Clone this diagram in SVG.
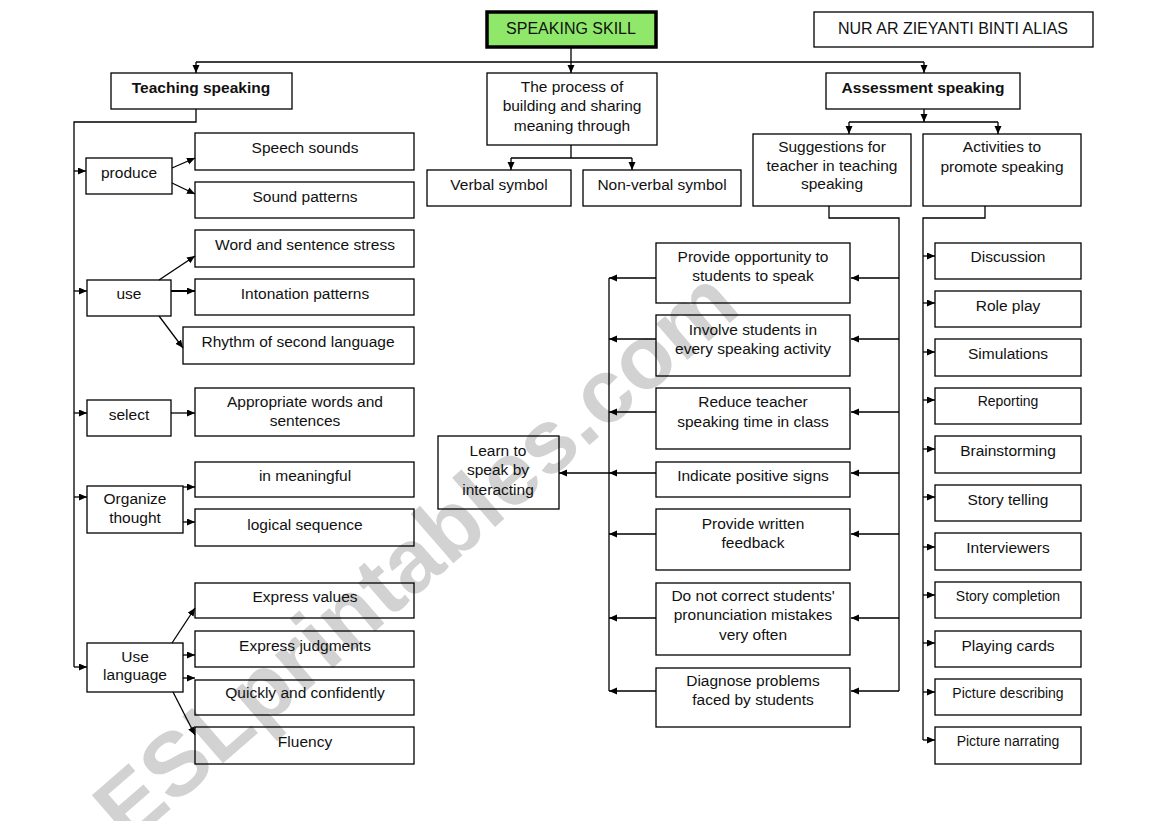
<svg xmlns="http://www.w3.org/2000/svg" width="1169" height="821" viewBox="0 0 1169 821">
<defs>
<marker id="ah" markerUnits="userSpaceOnUse" markerWidth="9" markerHeight="8" refX="8" refY="3.5" orient="auto"><path d="M0,0 L8,3.5 L0,7 z" fill="#000"/></marker>
<style>
.b{fill:none;stroke:#000;stroke-width:1.3}
.t{font-family:"Liberation Sans",Arial,sans-serif;font-size:15.5px;fill:#111;text-anchor:middle}
.s{font-size:14px}
.bd{font-weight:bold}
.c{fill:none;stroke:#000;stroke-width:1.3}
.a{marker-end:url(#ah)}
.wm{font-family:"Liberation Sans",Arial,sans-serif;font-weight:bold;font-size:90px;fill:#d2d2d2}
</style>
</defs>
<rect width="1169" height="821" fill="#fff"/>
<text class="wm" x="128" y="846" transform="rotate(-41 128 846)">ESLprintables.com</text>

<g id="connectors">
<path class="c a" d="M571 48 V73"/>
<path class="c" d="M196 62 H924"/>
<path class="c a" d="M196 62 V73"/>
<path class="c a" d="M924 62 V73"/>
<path class="c" d="M571 145 V158 M511 158 H632"/>
<path class="c a" d="M511 158 V170"/>
<path class="c a" d="M632 158 V170"/>
<path class="c a" d="M924 109 V122"/>
<path class="c" d="M849 122 H998"/>
<path class="c a" d="M849 122 V134"/>
<path class="c a" d="M998 122 V134"/>
<path class="c" d="M829 206 V218 H899 V691"/>
<path class="c" d="M985 206 V218 H923 V740"/>
<path class="c a" d="M899 278 H851"/>
<path class="c a" d="M899 339 H851"/>
<path class="c a" d="M899 412 H851"/>
<path class="c a" d="M899 473 H851"/>
<path class="c a" d="M899 534 H851"/>
<path class="c a" d="M899 618 H851"/>
<path class="c a" d="M899 691 H851"/>
<path class="c" d="M609 278 V691"/>
<path class="c a" d="M656 278 H609"/>
<path class="c a" d="M656 339 H609"/>
<path class="c a" d="M656 412 H609"/>
<path class="c a" d="M656 473 H609"/>
<path class="c a" d="M656 534 H609"/>
<path class="c a" d="M656 618 H609"/>
<path class="c a" d="M656 691 H609"/>
<path class="c a" d="M609 473 H559"/>
<path class="c a" d="M923 256 H935"/>
<path class="c a" d="M923 303 H935"/>
<path class="c a" d="M923 352 H935"/>
<path class="c a" d="M923 400 H935"/>
<path class="c a" d="M923 449 H935"/>
<path class="c a" d="M923 497 H935"/>
<path class="c a" d="M923 547 H935"/>
<path class="c a" d="M923 595 H935"/>
<path class="c a" d="M923 643 H935"/>
<path class="c a" d="M923 692 H935"/>
<path class="c a" d="M923 740 H935"/>
<path class="c" d="M196 109 V122 H74 V667"/>
<path class="c a" d="M74 171 H86"/>
<path class="c a" d="M74 291 H87"/>
<path class="c a" d="M74 413 H87"/>
<path class="c a" d="M74 497 H87"/>
<path class="c a" d="M74 667 H87"/>
<path class="c a" d="M172 168 L195 158"/>
<path class="c a" d="M172 183 L195 194"/>
<path class="c a" d="M159 280 L195 256"/>
<path class="c a" d="M171 291 H195" style="stroke-width:2"/>
<path class="c a" d="M159 316 L183 348"/>
<path class="c a" d="M171 413 H195"/>
<path class="c a" d="M183 487 H195"/>
<path class="c a" d="M183 522 H195"/>
<path class="c a" d="M172 643 L195 608"/>
<path class="c a" d="M183 655 H195"/>
<path class="c a" d="M183 678 H195"/>
<path class="c a" d="M173 692 L195 735"/>
</g>

<g id="speaking-skill"><rect x="487" y="12" width="169" height="35" fill="#8fe86a" stroke="#000" stroke-width="3.5"/><text class="t" x="571" y="34" style="font-size:16px">SPEAKING SKILL</text></g>
<g id="author"><rect x="814" y="12" width="279" height="35" class="b" stroke-width="2"/><text class="t" x="953" y="34" style="font-size:16px">NUR AR ZIEYANTI BINTI ALIAS</text></g>
<g id="teaching"><rect x="111" y="73" width="181" height="36" class="b"/><text class="t bd" x="201" y="93">Teaching speaking</text></g>
<g id="process"><rect x="487" y="73" width="170" height="72" class="b"/><text class="t" x="572" y="92">The process of</text><text class="t" x="572" y="111">building and sharing</text><text class="t" x="572" y="131">meaning through</text></g>
<g id="assessment"><rect x="826" y="73" width="194" height="36" class="b"/><text class="t bd" x="923" y="93">Assessment speaking</text></g>
<g id="verbal"><rect x="427" y="170" width="144" height="36" class="b"/><text class="t" x="499" y="190">Verbal symbol</text></g>
<g id="nonverbal"><rect x="583" y="170" width="158" height="36" class="b"/><text class="t" x="662" y="190">Non-verbal symbol</text></g>
<g id="suggestions"><rect x="753" y="134" width="158" height="72" class="b"/><text class="t" x="832" y="152">Suggestions for</text><text class="t" x="832" y="171">teacher in teaching</text><text class="t" x="832" y="189">speaking</text></g>
<g id="activities"><rect x="923" y="134" width="158" height="72" class="b"/><text class="t" x="1002" y="152">Activities to</text><text class="t" x="1002" y="172">promote speaking</text></g>

<g id="produce"><rect x="86" y="158" width="86" height="36" class="b"/><text class="t" x="129" y="178">produce</text></g>
<g id="speech-sounds"><rect x="195" y="133" width="219" height="37" class="b"/><text class="t" x="305" y="153">Speech sounds</text></g>
<g id="sound-patterns"><rect x="195" y="182" width="219" height="36" class="b"/><text class="t" x="305" y="202">Sound patterns</text></g>
<g id="use"><rect x="87" y="280" width="84" height="36" class="b"/><text class="t" x="129" y="299">use</text></g>
<g id="word-stress"><rect x="195" y="230" width="219" height="37" class="b"/><text class="t" x="305" y="250">Word and sentence stress</text></g>
<g id="intonation"><rect x="195" y="279" width="219" height="36" class="b"/><text class="t" x="305" y="299">Intonation patterns</text></g>
<g id="rhythm"><rect x="183" y="327" width="231" height="37" class="b"/><text class="t" x="298" y="347">Rhythm of second language</text></g>
<g id="select"><rect x="87" y="400" width="84" height="36" class="b"/><text class="t" x="129" y="420">select</text></g>
<g id="appropriate"><rect x="195" y="388" width="219" height="48" class="b"/><text class="t" x="305" y="407">Appropriate words and</text><text class="t" x="305" y="426">sentences</text></g>
<g id="organize"><rect x="87" y="486" width="96" height="47" class="b"/><text class="t" x="135" y="504">Organize</text><text class="t" x="135" y="523">thought</text></g>
<g id="meaningful"><rect x="195" y="462" width="219" height="35" class="b"/><text class="t" x="305" y="481">in meaningful</text></g>
<g id="logical"><rect x="195" y="509" width="219" height="37" class="b"/><text class="t" x="305" y="530">logical sequence</text></g>
<g id="use-language"><rect x="87" y="643" width="96" height="49" class="b"/><text class="t" x="135" y="662">Use</text><text class="t" x="135" y="680">language</text></g>
<g id="express-values"><rect x="195" y="583" width="219" height="35" class="b"/><text class="t" x="305" y="602">Express values</text></g>
<g id="express-judgments"><rect x="195" y="631" width="219" height="36" class="b"/><text class="t" x="305" y="651">Express judgments</text></g>
<g id="quickly"><rect x="195" y="680" width="219" height="35" class="b"/><text class="t" x="305" y="698">Quickly and confidently</text></g>
<g id="fluency"><rect x="195" y="727" width="219" height="37" class="b"/><text class="t" x="305" y="747">Fluency</text></g>

<g id="learn"><rect x="438" y="436" width="121" height="73" class="b"/><text class="t" x="498" y="456">Learn to</text><text class="t" x="498" y="475">speak by</text><text class="t" x="498" y="495">interacting</text></g>
<g id="opportunity"><rect x="656" y="243" width="194" height="60" class="b"/><text class="t" x="753" y="262">Provide opportunity to</text><text class="t" x="753" y="281">students to speak</text></g>
<g id="involve"><rect x="656" y="315" width="194" height="61" class="b"/><text class="t" x="753" y="335">Involve students in</text><text class="t" x="753" y="354">every speaking activity</text></g>
<g id="reduce"><rect x="656" y="388" width="194" height="61" class="b"/><text class="t" x="753" y="407">Reduce teacher</text><text class="t" x="753" y="427">speaking time in class</text></g>
<g id="indicate"><rect x="656" y="462" width="194" height="35" class="b"/><text class="t" x="753" y="481">Indicate positive signs</text></g>
<g id="written"><rect x="656" y="509" width="194" height="61" class="b"/><text class="t" x="753" y="529">Provide written</text><text class="t" x="753" y="548">feedback</text></g>
<g id="do-not-correct"><rect x="656" y="583" width="194" height="72" class="b"/><text class="t" x="753" y="601">Do not correct students'</text><text class="t" x="753" y="620">pronunciation mistakes</text><text class="t" x="753" y="640">very often</text></g>
<g id="diagnose"><rect x="656" y="668" width="194" height="59" class="b"/><text class="t" x="753" y="686">Diagnose problems</text><text class="t" x="753" y="705">faced by students</text></g>

<g id="discussion"><rect x="935" y="243" width="146" height="36" class="b"/><text class="t" x="1008" y="262">Discussion</text></g>
<g id="role-play"><rect x="935" y="291" width="146" height="36" class="b"/><text class="t" x="1008" y="311">Role play</text></g>
<g id="simulations"><rect x="935" y="339" width="146" height="37" class="b"/><text class="t" x="1008" y="359">Simulations</text></g>
<g id="reporting"><rect x="935" y="388" width="146" height="36" class="b"/><text class="t s" x="1008" y="406">Reporting</text></g>
<g id="brainstorming"><rect x="935" y="436" width="146" height="37" class="b"/><text class="t" x="1008" y="456">Brainstorming</text></g>
<g id="story-telling"><rect x="935" y="485" width="146" height="36" class="b"/><text class="t" x="1008" y="505">Story telling</text></g>
<g id="interviewers"><rect x="935" y="533" width="146" height="37" class="b"/><text class="t" x="1008" y="553">Interviewers</text></g>
<g id="story-completion"><rect x="935" y="582" width="146" height="36" class="b"/><text class="t s" x="1008" y="601">Story completion</text></g>
<g id="playing-cards"><rect x="935" y="631" width="146" height="36" class="b"/><text class="t" x="1008" y="651">Playing cards</text></g>
<g id="picture-describing"><rect x="935" y="679" width="146" height="36" class="b"/><text class="t s" x="1008" y="698">Picture describing</text></g>
<g id="picture-narrating"><rect x="935" y="727" width="146" height="37" class="b"/><text class="t s" x="1008" y="746">Picture narrating</text></g>
</svg>
